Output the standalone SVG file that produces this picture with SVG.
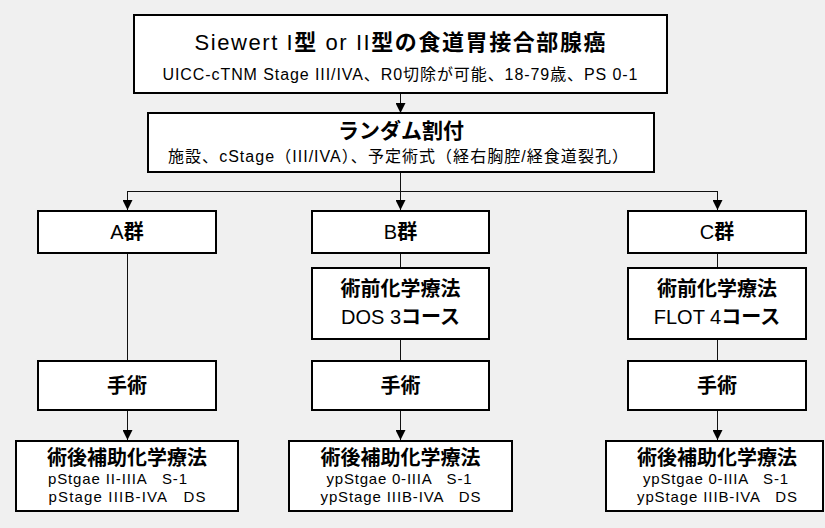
<svg xmlns="http://www.w3.org/2000/svg" width="825" height="528" viewBox="0 0 825 528">
<defs>
<style>
.bg{fill:#f0f0f0}
.box{fill:#fff;stroke:#000;stroke-width:2}
.t{font-family:"Liberation Sans","Noto Sans CJK JP",sans-serif;fill:#000;text-anchor:middle}
.j{font-family:"Noto Sans CJK JP","Liberation Sans",sans-serif;font-weight:bold}
.h{font-size:20px}
.s{font-size:16px}
.xs{font-size:15px}
.c{fill:none;stroke:#111;stroke-width:1}
</style>
<marker id="arr" markerWidth="10" markerHeight="10" refX="10" refY="5" orient="auto" markerUnits="userSpaceOnUse">
<path d="M0,0 L10,5 L0,10 z" fill="#000"/>
</marker>
</defs>
<rect class="bg" x="0" y="0" width="825" height="528"/>

<g id="connectors">
<path class="c" d="M400.5,94 V113" marker-end="url(#arr)"/>
<path class="c" d="M400.5,173 V210" marker-end="url(#arr)"/>
<path class="c" d="M127.5,191.5 H717.5"/>
<path class="c" d="M127.5,191 V210" marker-end="url(#arr)"/>
<path class="c" d="M717.5,191 V210" marker-end="url(#arr)"/>
<path class="c" d="M127.5,254 V361"/>
<path class="c" d="M127.5,411 V440" marker-end="url(#arr)"/>
<path class="c" d="M400.5,254 V268"/>
<path class="c" d="M400.5,340 V361"/>
<path class="c" d="M400.5,411 V440" marker-end="url(#arr)"/>
<path class="c" d="M717.5,254 V268"/>
<path class="c" d="M717.5,340 V361"/>
<path class="c" d="M717.5,411 V440" marker-end="url(#arr)"/>
</g>

<g id="eligibility">
<rect class="box" x="134" y="15" width="533" height="78"/>
<text class="t" x="400" y="50" style="font-size:22px" textLength="411" lengthAdjust="spacing">Siewert I<tspan class="j">型</tspan> or II<tspan class="j">型の食道胃接合部腺癌</tspan></text>
<text class="t s" x="400" y="80" textLength="475" lengthAdjust="spacing">UICC-cTNM Stage III/IVA、R0切除が可能、18-79歳、PS 0-1</text>
</g>

<g id="randomization">
<rect class="box" x="148" y="113" width="506" height="59"/>
<text class="t j" x="401" y="138" style="font-size:21px">ランダム割付</text>
<text class="t s" x="398" y="162" textLength="460" lengthAdjust="spacing">施設、cStage（III/IVA）、予定術式（経右胸腔/経食道裂孔）</text>
</g>

<g id="groupA">
<rect class="box" x="38" y="211" width="178" height="42"/>
<text class="t h" x="127" y="239">A<tspan class="j">群</tspan></text>
</g>
<g id="groupB">
<rect class="box" x="312" y="211" width="177" height="42"/>
<text class="t h" x="400.5" y="239">B<tspan class="j">群</tspan></text>
</g>
<g id="groupC">
<rect class="box" x="628" y="211" width="178" height="42"/>
<text class="t h" x="717" y="239">C<tspan class="j">群</tspan></text>
</g>

<g id="chemoB">
<rect class="box" x="312" y="268" width="177" height="71"/>
<text class="t j h" x="400.5" y="296">術前化学療法</text>
<text class="t h" x="400.5" y="324">DOS 3<tspan class="j">コース</tspan></text>
</g>
<g id="chemoC">
<rect class="box" x="628" y="268" width="178" height="71"/>
<text class="t j h" x="717" y="296">術前化学療法</text>
<text class="t h" x="717" y="324">FLOT 4<tspan class="j">コース</tspan></text>
</g>

<g id="surgeryA">
<rect class="box" x="38" y="361" width="178" height="49"/>
<text class="t j h" x="127" y="393">手術</text>
</g>
<g id="surgeryB">
<rect class="box" x="312" y="361" width="177" height="49"/>
<text class="t j h" x="400.5" y="393">手術</text>
</g>
<g id="surgeryC">
<rect class="box" x="628" y="361" width="178" height="49"/>
<text class="t j h" x="717" y="393">手術</text>
</g>

<g id="adjuvantA">
<rect class="box" x="16" y="441" width="222" height="70"/>
<text class="t j h" x="127" y="465">術後補助化学療法</text>
<text class="t xs" x="117.5" y="484" xml:space="preserve" textLength="139" lengthAdjust="spacing">pStgae II-IIIA   S-1</text>
<text class="t xs" x="127" y="502" xml:space="preserve" textLength="157" lengthAdjust="spacing">pStage IIIB-IVA   DS</text>
</g>
<g id="adjuvantB">
<rect class="box" x="289" y="441" width="223" height="70"/>
<text class="t j h" x="400.5" y="465">術後補助化学療法</text>
<text class="t xs" x="399" y="484" xml:space="preserve" textLength="145" lengthAdjust="spacing">ypStgae 0-IIIA   S-1</text>
<text class="t xs" x="400.5" y="502" xml:space="preserve" textLength="160" lengthAdjust="spacing">ypStage IIIB-IVA   DS</text>
</g>
<g id="adjuvantC">
<rect class="box" x="606" y="441" width="217" height="70"/>
<text class="t j h" x="717" y="465">術後補助化学療法</text>
<text class="t xs" x="715.5" y="484" xml:space="preserve" textLength="145" lengthAdjust="spacing">ypStgae 0-IIIA   S-1</text>
<text class="t xs" x="717" y="502" xml:space="preserve" textLength="160" lengthAdjust="spacing">ypStage IIIB-IVA   DS</text>
</g>
</svg>
